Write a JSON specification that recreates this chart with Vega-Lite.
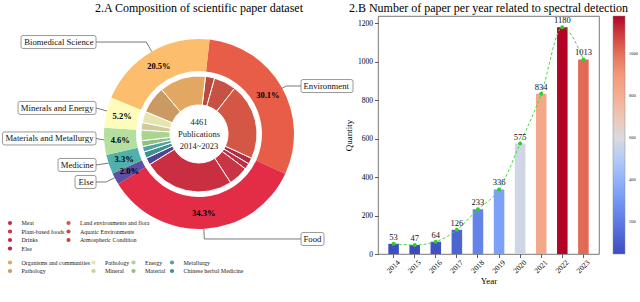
{
  "$schema": "https://vega.github.io/schema/vega-lite/v6.json",
  "autosize": {"type": "pad"},
  "padding": {"left": 0, "top": 1, "right": 0, "bottom": 0},
  "bounds": "flush",
  "spacing": 0,
  "config": {
    "font": "Liberation Serif",
    "view": {"stroke": null},
    "title": {"font": "Liberation Serif", "fontSize": 12, "fontWeight": "normal", "color": "#000", "anchor": "middle", "frame": "group", "offset": 1.5},
    "axis": {"labelFont": "Liberation Serif", "titleFont": "Liberation Serif", "labelColor": "#000", "titleColor": "#000", "tickColor": "#333", "tickWidth": 0.8, "tickSize": 3.5, "domain": false, "grid": false, "labelFontSize": 7.5, "titleFontSize": 9, "titleFontWeight": "normal", "labelOverlap": false},
    "legend": {"title": null, "padding": 0, "labelFont": "Liberation Serif", "labelColor": "#222"}
  },
  "datasets": {
    "outer": [
      {"cat": "Environment", "n": 1343, "share": 0.301, "ord": 1},
      {"cat": "Food", "n": 1530, "share": 0.343, "ord": 2},
      {"cat": "Else", "n": 89, "share": 0.020, "ord": 3},
      {"cat": "Medicine", "n": 147, "share": 0.033, "ord": 4},
      {"cat": "Materials and Metallurgy", "n": 205, "share": 0.046, "ord": 5},
      {"cat": "Minerals and Energy", "n": 232, "share": 0.052, "ord": 6},
      {"cat": "Biomedical Science", "n": 915, "share": 0.205, "ord": 7}
    ],
    "inner": [
      {"grp": "Environment", "sub": "Atmospheric Condition", "n": 115, "ord": 1},
      {"grp": "Environment", "sub": "Aquatic Environments", "n": 276, "ord": 2},
      {"grp": "Environment", "sub": "Land environments and flora", "n": 952, "ord": 3},
      {"grp": "Food", "sub": "Else", "n": 77, "ord": 4},
      {"grp": "Food", "sub": "Drinks", "n": 74, "ord": 5},
      {"grp": "Food", "sub": "Plant-based foods", "n": 248, "ord": 6},
      {"grp": "Food", "sub": "Meat", "n": 1131, "ord": 7},
      {"grp": "Else", "sub": "Else", "n": 89, "ord": 8},
      {"grp": "Medicine", "sub": "Chinese herbal Medicine", "n": 80, "ord": 9},
      {"grp": "Medicine", "sub": "Metallurgy", "n": 67, "ord": 10},
      {"grp": "Materials", "sub": "Material", "n": 75, "ord": 11},
      {"grp": "Materials", "sub": "Energy", "n": 130, "ord": 12},
      {"grp": "Minerals", "sub": "Mineral", "n": 95, "ord": 13},
      {"grp": "Minerals", "sub": "Pathology", "n": 137, "ord": 14},
      {"grp": "Biomedical", "sub": "Pathology", "n": 340, "ord": 15},
      {"grp": "Biomedical", "sub": "Organisms and communities", "n": 575, "ord": 16}
    ],
    "center": [{"text": "4461\nPublications\n2014~2023"}],
    "callouts": [
      {"label": "Biomedical Science", "lx": -1.084, "ly": 0.968},
      {"label": "Minerals and Energy", "lx": -1.084, "ly": 0.274},
      {"label": "Materials and Metallurgy", "lx": -1.084, "ly": -0.047},
      {"label": "Medicine", "lx": -1.084, "ly": -0.326},
      {"label": "Else", "lx": -1.084, "ly": -0.505},
      {"label": "Environment", "lx": 1.074, "ly": 0.505},
      {"label": "Food", "lx": 1.074, "ly": -1.105}
    ],
    "connectors": [
      {"label": "Biomedical Science", "step": 1, "px": -1.084, "py": 0.968},
      {"label": "Biomedical Science", "step": 2, "px": -0.555, "py": 0.968},
      {"label": "Biomedical Science", "step": 3, "px": -0.497, "py": 0.868},
      {"label": "Environment", "step": 1, "px": 1.074, "py": 0.505},
      {"label": "Environment", "step": 2, "px": 0.918, "py": 0.505},
      {"label": "Environment", "step": 3, "px": 0.876, "py": 0.482},
      {"label": "Minerals and Energy", "step": 1, "px": -1.084, "py": 0.274},
      {"label": "Minerals and Energy", "step": 2, "px": -0.970, "py": 0.242},
      {"label": "Materials and Metallurgy", "step": 1, "px": -1.084, "py": -0.047},
      {"label": "Materials and Metallurgy", "step": 2, "px": -0.998, "py": -0.063},
      {"label": "Medicine", "step": 1, "px": -1.084, "py": -0.326},
      {"label": "Medicine", "step": 2, "px": -0.952, "py": -0.307},
      {"label": "Else", "step": 1, "px": -1.084, "py": -0.505},
      {"label": "Else", "step": 2, "px": -0.975, "py": -0.505},
      {"label": "Else", "step": 3, "px": -0.888, "py": -0.460},
      {"label": "Food", "step": 1, "px": 1.074, "py": -1.105},
      {"label": "Food", "step": 2, "px": 0.056, "py": -1.105},
      {"label": "Food", "step": 3, "px": 0.051, "py": -0.999}
    ],
    "years": [
      {"year": 2014, "count": 53}, {"year": 2015, "count": 47}, {"year": 2016, "count": 64},
      {"year": 2017, "count": 126}, {"year": 2018, "count": 233}, {"year": 2019, "count": 336},
      {"year": 2020, "count": 575}, {"year": 2021, "count": 834}, {"year": 2022, "count": 1180},
      {"year": 2023, "count": 1013}
    ]
  },
  "hconcat": [
    {
      "width": 377,
      "height": 238,
      "title": {"text": "2.A  Composition of scientific paper dataset", "dx": 9.5},
      "layer": [
        {
          "data": {"name": "outer"},
          "mark": {"type": "arc", "outerRadius": 95, "innerRadius": 63},
          "encoding": {
            "theta": {"field": "n", "type": "quantitative", "stack": true, "scale": {"range": [0.1117, 6.3949]}},
            "order": {"field": "ord", "type": "quantitative"},
            "color": {"field": "cat", "type": "nominal", "legend": null,
              "scale": {"domain": ["Environment", "Food", "Else", "Medicine", "Materials and Metallurgy", "Minerals and Energy", "Biomedical Science"],
                        "range": ["#e85d48", "#e32c45", "#5e4fa2", "#4fb0ac", "#b4df9f", "#fdfcbb", "#fcbd6c"]}},
            "x": {"datum": 0, "type": "quantitative", "scale": {"domain": [-2.0842, 1.8842], "nice": false, "zero": false}, "axis": null},
            "y": {"datum": 0, "type": "quantitative", "scale": {"domain": [-1.2632, 1.2421], "nice": false, "zero": false}, "axis": null}
          }
        },
        {
          "data": {"name": "inner"},
          "transform": [{"stack": "n", "groupby": [], "sort": [{"field": "ord", "order": "ascending"}], "as": ["t0", "t1"]}, {"filter": {"field": "grp", "equal": "Food"}}],
          "mark": {"type": "arc", "outerRadius": 58, "innerRadius": 29, "stroke": "white", "strokeWidth": 1},
          "encoding": {
            "theta": {"field": "t0", "type": "quantitative"}, "theta2": {"field": "t1"},
            "color": {"field": "sub", "type": "nominal",
              "scale": {"domain": ["Meat", "Plant-based foods", "Drinks", "Else"], "range": ["#c92f40", "#c83546", "#bd2e40", "#b32a44"]},
              "legend": {"orient": "none", "legendX": 6, "legendY": 204, "symbolType": "circle", "symbolSize": 18, "symbolStrokeWidth": 0, "labelFontSize": 6, "labelOffset": 8.5, "rowPadding": 2.5}},
            "x": {"datum": 0, "type": "quantitative"}, "y": {"datum": 0, "type": "quantitative"}
          }
        },
        {
          "data": {"name": "inner"},
          "transform": [{"stack": "n", "groupby": [], "sort": [{"field": "ord", "order": "ascending"}], "as": ["t0", "t1"]}, {"filter": {"field": "grp", "equal": "Environment"}}],
          "mark": {"type": "arc", "outerRadius": 58, "innerRadius": 29, "stroke": "white", "strokeWidth": 1},
          "encoding": {
            "theta": {"field": "t0", "type": "quantitative"}, "theta2": {"field": "t1"},
            "color": {"field": "sub", "type": "nominal",
              "scale": {"domain": ["Land environments and flora", "Aquatic Environments", "Atmospheric Condition"], "range": ["#d45746", "#c75243", "#b94a3e"]},
              "legend": {"orient": "none", "legendX": 64.5, "legendY": 204, "symbolType": "circle", "symbolSize": 18, "symbolStrokeWidth": 0, "labelFontSize": 6, "labelOffset": 8.5, "rowPadding": 2.5}},
            "x": {"datum": 0, "type": "quantitative"}, "y": {"datum": 0, "type": "quantitative"}
          }
        },
        {
          "data": {"name": "inner"},
          "transform": [{"stack": "n", "groupby": [], "sort": [{"field": "ord", "order": "ascending"}], "as": ["t0", "t1"]}, {"filter": {"field": "grp", "equal": "Else"}}],
          "mark": {"type": "arc", "outerRadius": 58, "innerRadius": 29, "stroke": "white", "strokeWidth": 1},
          "encoding": {
            "theta": {"field": "t0", "type": "quantitative"}, "theta2": {"field": "t1"},
            "color": {"field": "sub", "type": "nominal", "scale": {"domain": ["Else"], "range": ["#4e4495"]}, "legend": null},
            "x": {"datum": 0, "type": "quantitative"}, "y": {"datum": 0, "type": "quantitative"}
          }
        },
        {
          "data": {"name": "inner"},
          "transform": [{"stack": "n", "groupby": [], "sort": [{"field": "ord", "order": "ascending"}], "as": ["t0", "t1"]}, {"filter": {"field": "grp", "equal": "Biomedical"}}],
          "mark": {"type": "arc", "outerRadius": 58, "innerRadius": 29, "stroke": "white", "strokeWidth": 1},
          "encoding": {
            "theta": {"field": "t0", "type": "quantitative"}, "theta2": {"field": "t1"},
            "color": {"field": "sub", "type": "nominal",
              "scale": {"domain": ["Organisms and communities", "Pathology"], "range": ["#e2a862", "#cb9a62"]},
              "legend": {"orient": "none", "legendX": 6, "legendY": 243.5, "symbolType": "circle", "symbolSize": 18, "symbolStrokeWidth": 0, "labelFontSize": 6, "labelOffset": 8.5, "rowPadding": 2.5}},
            "x": {"datum": 0, "type": "quantitative"}, "y": {"datum": 0, "type": "quantitative"}
          }
        },
        {
          "data": {"name": "inner"},
          "transform": [{"stack": "n", "groupby": [], "sort": [{"field": "ord", "order": "ascending"}], "as": ["t0", "t1"]}, {"filter": {"field": "grp", "equal": "Minerals"}}],
          "mark": {"type": "arc", "outerRadius": 58, "innerRadius": 29, "stroke": "white", "strokeWidth": 1},
          "encoding": {
            "theta": {"field": "t0", "type": "quantitative"}, "theta2": {"field": "t1"},
            "color": {"field": "sub", "type": "nominal",
              "scale": {"domain": ["Pathology", "Mineral"], "range": ["#e7e4ae", "#d1ca9b"]},
              "legend": {"orient": "none", "legendX": 89.5, "legendY": 243.5, "symbolType": "circle", "symbolSize": 18, "symbolStrokeWidth": 0, "labelFontSize": 6, "labelOffset": 8.5, "rowPadding": 2.5}},
            "x": {"datum": 0, "type": "quantitative"}, "y": {"datum": 0, "type": "quantitative"}
          }
        },
        {
          "data": {"name": "inner"},
          "transform": [{"stack": "n", "groupby": [], "sort": [{"field": "ord", "order": "ascending"}], "as": ["t0", "t1"]}, {"filter": {"field": "grp", "equal": "Materials"}}],
          "mark": {"type": "arc", "outerRadius": 58, "innerRadius": 29, "stroke": "white", "strokeWidth": 1},
          "encoding": {
            "theta": {"field": "t0", "type": "quantitative"}, "theta2": {"field": "t1"},
            "color": {"field": "sub", "type": "nominal",
              "scale": {"domain": ["Energy", "Material"], "range": ["#aad590", "#93bf80"]},
              "legend": {"orient": "none", "legendX": 129.5, "legendY": 243.5, "symbolType": "circle", "symbolSize": 18, "symbolStrokeWidth": 0, "labelFontSize": 6, "labelOffset": 8.5, "rowPadding": 2.5}},
            "x": {"datum": 0, "type": "quantitative"}, "y": {"datum": 0, "type": "quantitative"}
          }
        },
        {
          "data": {"name": "inner"},
          "transform": [{"stack": "n", "groupby": [], "sort": [{"field": "ord", "order": "ascending"}], "as": ["t0", "t1"]}, {"filter": {"field": "grp", "equal": "Medicine"}}],
          "mark": {"type": "arc", "outerRadius": 58, "innerRadius": 29, "stroke": "white", "strokeWidth": 1},
          "encoding": {
            "theta": {"field": "t0", "type": "quantitative"}, "theta2": {"field": "t1"},
            "color": {"field": "sub", "type": "nominal",
              "scale": {"domain": ["Metallurgy", "Chinese herbal Medicine"], "range": ["#4ca5a0", "#3d9192"]},
              "legend": {"orient": "none", "legendX": 168, "legendY": 243.5, "symbolType": "circle", "symbolSize": 18, "symbolStrokeWidth": 0, "labelFontSize": 6, "labelOffset": 8.5, "rowPadding": 2.5}},
            "x": {"datum": 0, "type": "quantitative"}, "y": {"datum": 0, "type": "quantitative"}
          }
        },
        {
          "data": {"name": "outer"},
          "mark": {"type": "text", "radius": 79, "fontWeight": "bold", "fontSize": 8.5, "color": "#000", "baseline": "middle", "align": "center"},
          "encoding": {
            "theta": {"field": "n", "type": "quantitative", "stack": true},
            "order": {"field": "ord", "type": "quantitative"},
            "text": {"field": "share", "type": "quantitative", "format": ".1%"},
            "x": {"datum": 0, "type": "quantitative"}, "y": {"datum": 0, "type": "quantitative"}
          }
        },
        {
          "data": {"name": "center"},
          "mark": {"type": "text", "fontSize": 8.5, "lineHeight": 12, "lineBreak": "\n", "baseline": "middle", "align": "center", "dy": -12, "color": "#222"},
          "encoding": {
            "text": {"field": "text", "type": "nominal"},
            "x": {"datum": 0, "type": "quantitative"}, "y": {"datum": 0, "type": "quantitative"}
          }
        },
        {
          "data": {"name": "connectors"},
          "mark": {"type": "line", "stroke": "#555", "strokeWidth": 0.8},
          "encoding": {
            "x": {"field": "px", "type": "quantitative"},
            "y": {"field": "py", "type": "quantitative"},
            "detail": {"field": "label", "type": "nominal"},
            "order": {"field": "step", "type": "quantitative"}
          }
        },
        {
          "data": {"name": "callouts"},
          "mark": {"type": "point", "filled": false, "fill": "white", "fillOpacity": 1, "stroke": "#808080", "strokeWidth": 0.8, "opacity": 1, "size": 4},
          "encoding": {
            "x": {"field": "lx", "type": "quantitative"},
            "y": {"field": "ly", "type": "quantitative"},
            "shape": {"field": "label", "type": "nominal", "legend": null,
              "scale": {
                "domain": ["Biomedical Science", "Minerals and Energy", "Materials and Metallurgy", "Medicine", "Else", "Environment", "Food"],
                "range": [
                  "M-73,-6.5H-2Q0,-6.5 0,-4.5V4.5Q0,6.5 -2,6.5H-73Q-75,6.5 -75,4.5V-4.5Q-75,-6.5 -73,-6.5Z",
                  "M-76,-6.5H-2Q0,-6.5 0,-4.5V4.5Q0,6.5 -2,6.5H-76Q-78,6.5 -78,4.5V-4.5Q-78,-6.5 -76,-6.5Z",
                  "M-91.5,-6.5H-2Q0,-6.5 0,-4.5V4.5Q0,6.5 -2,6.5H-91.5Q-93.5,6.5 -93.5,4.5V-4.5Q-93.5,-6.5 -91.5,-6.5Z",
                  "M-36,-6.5H-2Q0,-6.5 0,-4.5V4.5Q0,6.5 -2,6.5H-36Q-38,6.5 -38,4.5V-4.5Q-38,-6.5 -36,-6.5Z",
                  "M-19,-6.5H-2Q0,-6.5 0,-4.5V4.5Q0,6.5 -2,6.5H-19Q-21,6.5 -21,4.5V-4.5Q-21,-6.5 -19,-6.5Z",
                  "M2,-6.5H50Q52,-6.5 52,-4.5V4.5Q52,6.5 50,6.5H2Q0,6.5 0,4.5V-4.5Q0,-6.5 2,-6.5Z",
                  "M2,-6.5H21Q23,-6.5 23,-4.5V4.5Q23,6.5 21,6.5H2Q0,6.5 0,4.5V-4.5Q0,-6.5 2,-6.5Z"
                ]
              }
            }
          }
        },
        {
          "data": {"name": "callouts"},
          "transform": [{"filter": "datum.lx < 0"}],
          "mark": {"type": "text", "align": "right", "baseline": "middle", "dx": -2.5, "fontSize": 8.7, "color": "#111"},
          "encoding": {
            "x": {"field": "lx", "type": "quantitative"},
            "y": {"field": "ly", "type": "quantitative"},
            "text": {"field": "label", "type": "nominal"}
          }
        },
        {
          "data": {"name": "callouts"},
          "transform": [{"filter": "datum.lx > 0"}],
          "mark": {"type": "text", "align": "left", "baseline": "middle", "dx": 2.5, "fontSize": 8.7, "color": "#111"},
          "encoding": {
            "x": {"field": "lx", "type": "quantitative"},
            "y": {"field": "ly", "type": "quantitative"},
            "text": {"field": "label", "type": "nominal"}
          }
        }
      ],
      "resolve": {"scale": {"color": "independent"}, "legend": {"color": "independent"}}
    },
    {
      "width": 221,
      "height": 238,
      "title": "2.B  Number of paper per year related to spectral detection",
      "view": {"stroke": "#555", "strokeWidth": 0.8},
      "data": {"name": "years"},
      "encoding": {
        "x": {"field": "year", "type": "ordinal", "scale": {"paddingInner": 0.5, "paddingOuter": 0.49},
          "axis": {"title": "Year", "labelAngle": -45, "labelAlign": "center", "labelBaseline": "middle", "labelPadding": 9, "titlePadding": 2}},
        "y": {"field": "count", "type": "quantitative", "scale": {"domain": [0, 1239], "nice": false},
          "axis": {"title": "Quantity", "values": [0, 200, 400, 600, 800, 1000, 1200], "format": "d", "labelPadding": 2, "titlePadding": 4, "labelOverlap": false, "labelSeparation": 0, "tickCount": 7}}
      },
      "layer": [
        {
          "mark": {"type": "bar"},
          "encoding": {
            "color": {"field": "count", "type": "quantitative",
              "scale": {"domain": [47, 188.6, 330.3, 471.9, 613.5, 755.1, 896.8, 1038.4, 1180],
                        "range": ["#3b4cc0", "#5a78e2", "#7b9ff9", "#aac7fd", "#dddcdc", "#f7b89c", "#f49a7b", "#de604d", "#b40426"],
                        "interpolate": "rgb"},
              "legend": {"orient": "none", "legendX": 612, "legendY": 0, "direction": "vertical", "gradientLength": 238, "gradientThickness": 12,
                         "values": [200, 400, 600, 800, 1000], "format": "d", "labelFontSize": 4.5, "labelOffset": 4, "labelOverlap": false,
                         "gradientStrokeColor": "#888", "gradientStrokeWidth": 0.5}}
          }
        },
        {
          "mark": {"type": "line", "interpolate": "monotone", "strokeDash": [3, 2], "color": "#45dc45", "strokeWidth": 1}
        },
        {
          "mark": {"type": "point", "filled": true, "color": "#33cc33", "size": 16, "opacity": 1}
        },
        {
          "mark": {"type": "text", "baseline": "bottom", "dy": -2, "fontSize": 8.5, "color": "#111"},
          "encoding": {"text": {"field": "count", "type": "quantitative"}}
        }
      ]
    }
  ]
}
